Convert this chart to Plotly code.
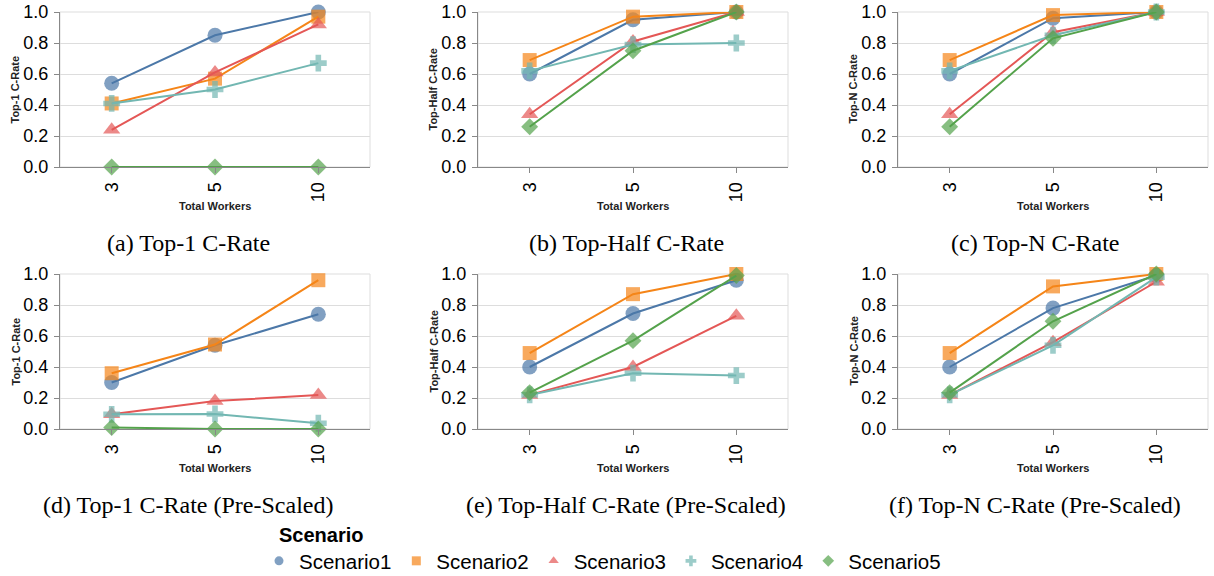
import plotly.graph_objects as go

# ---------------- data ----------------
workers = ["3", "5", "10"]
scenarios = ["Scenario1", "Scenario2", "Scenario3", "Scenario4", "Scenario5"]

top1 = [[0.54, 0.85, 1.00],
        [0.41, 0.57, 0.97],
        [0.24, 0.61, 0.92],
        [0.41, 0.50, 0.67],
        [0.00, 0.00, 0.00]]
top_half = [[0.60, 0.95, 1.00],
            [0.69, 0.97, 1.00],
            [0.34, 0.81, 1.00],
            [0.62, 0.79, 0.80],
            [0.26, 0.75, 1.00]]
top_n = [[0.60, 0.96, 1.00],
         [0.69, 0.98, 1.00],
         [0.34, 0.87, 1.00],
         [0.62, 0.85, 1.00],
         [0.26, 0.83, 1.00]]
top1_pre = [[0.30, 0.54, 0.74],
            [0.36, 0.545, 0.96],
            [0.095, 0.18, 0.22],
            [0.095, 0.097, 0.037],
            [0.01, 0.00, 0.00]]
top_half_pre = [[0.40, 0.745, 0.96],
                [0.49, 0.87, 1.00],
                [0.22, 0.40, 0.73],
                [0.22, 0.36, 0.345],
                [0.235, 0.57, 0.99]]
top_n_pre = [[0.40, 0.78, 0.99],
             [0.49, 0.92, 1.00],
             [0.22, 0.56, 0.95],
             [0.22, 0.54, 0.98],
             [0.235, 0.695, 1.00]]

panels = [top1, top_half, top_n, top1_pre, top_half_pre, top_n_pre]
y_titles = ["Top-1 C-Rate", "Top-Half C-Rate", "Top-N C-Rate",
            "Top-1 C-Rate", "Top-Half C-Rate", "Top-N C-Rate"]
captions = ["(a) Top-1 C-Rate", "(b) Top-Half C-Rate", "(c) Top-N C-Rate",
            "(d) Top-1 C-Rate (Pre-Scaled)", "(e) Top-Half C-Rate (Pre-Scaled)",
            "(f) Top-N C-Rate (Pre-Scaled)"]
y_ticks = [0.0, 0.2, 0.4, 0.6, 0.8, 1.0]

# ---------------- styles ----------------
colors = ["#4c78a8", "#f58518", "#e45756", "#72b7b2", "#54a24b"]
symbols = ["circle", "square", "triangle-up", "cross", "diamond"]
msizes = [15, 14, 15, 14, 13]

W, H = 1214, 576
col_left = [60, 478, 898]
plot_w = 310
row_top = [12, 274]
plot_h = 155
caption_x = [188, 626, 1035]
caption_y = [243, 505]

SANS = "Liberation Sans, Arial, sans-serif"
SERIF = "Liberation Serif, Times New Roman, serif"

fig = go.Figure()
layout = dict(
    width=W, height=H,
    margin=dict(l=0, r=0, t=0, b=0, autoexpand=False),
    paper_bgcolor="white", plot_bgcolor="white",
    showlegend=True,
    font=dict(family=SANS, color="#000"),
)
annotations = []
shapes = []

for i, data in enumerate(panels):
    r, c = divmod(i, 3)
    sfx = "" if i == 0 else str(i + 1)
    x0 = col_left[c]
    y0 = row_top[r]
    xd = [x0 / W, (x0 + plot_w) / W]
    yd = [1 - (y0 + plot_h) / H, 1 - y0 / H]
    layout["xaxis" + sfx] = dict(
        domain=xd, anchor="y" + sfx, type="category",
        categoryorder="array", categoryarray=workers,
        range=[-0.5, 2.5], tickangle=-90, automargin=False,
        showgrid=False, zeroline=False,
        showline=True, linecolor="#888", linewidth=1,
        ticks="outside", ticklen=5, tickcolor="#888",
        tickfont=dict(size=18, family=SANS, color="#000"),
        ticklabelstandoff=2,
    )
    layout["yaxis" + sfx] = dict(
        domain=yd, anchor="x" + sfx, range=[0, 1], automargin=False,
        tickvals=y_ticks, ticktext=[f"{v:.1f}" for v in y_ticks],
        showgrid=True, gridcolor="#ddd", gridwidth=1, zeroline=False,
        showline=True, linecolor="#888", linewidth=1,
        ticks="outside", ticklen=5, tickcolor="#888",
        tickfont=dict(size=18, family=SANS, color="#000"),
        ticklabelstandoff=2,
    )
    # view frame
    shapes.append(dict(type="rect", xref="x" + sfx + " domain", yref="y" + sfx + " domain",
                       x0=0, x1=1, y0=0, y1=1, line=dict(color="#ddd", width=1),
                       layer="below"))
    for s, vals in enumerate(data):
        fig.add_trace(go.Scatter(
            x=workers, y=vals, mode="lines+markers", name=scenarios[s],
            legendgroup=scenarios[s], showlegend=False,
            xaxis="x" + sfx, yaxis="y" + sfx, cliponaxis=False,
            line=dict(color=colors[s], width=2),
            marker=dict(symbol=symbols[s], size=msizes[s], color=colors[s],
                        opacity=0.7, line=dict(width=0)),
        ))
    # axis titles
    annotations.append(dict(
        text="<b>Total Workers</b>", xref="paper", yref="paper",
        x=(x0 + plot_w / 2) / W, y=1 - (y0 + plot_h + 39) / H,
        xanchor="center", yanchor="middle", showarrow=False,
        font=dict(size=11, family=SANS, color="#222")))
    annotations.append(dict(
        text="<b>" + y_titles[i] + "</b>", xref="paper", yref="paper",
        x=(x0 - 45) / W, y=1 - (y0 + plot_h / 2) / H, textangle=-90,
        xanchor="center", yanchor="middle", showarrow=False,
        font=dict(size=11, family=SANS, color="#222")))
    # captions
    annotations.append(dict(
        text=captions[i], xref="paper", yref="paper",
        x=caption_x[c] / W, y=1 - caption_y[r] / H,
        xanchor="center", yanchor="middle", showarrow=False,
        font=dict(size=24, family=SERIF, color="#000")))

# legend entries
for s in range(5):
    fig.add_trace(go.Scatter(
        x=[None], y=[None], mode="markers", name=scenarios[s],
        legendgroup=scenarios[s], showlegend=True,
        marker=dict(symbol=symbols[s], size=9, color=colors[s], opacity=0.7),
    ))

annotations.append(dict(
    text="<b>Scenario</b>", xref="paper", yref="paper",
    x=277 / W, y=1 - 535 / H, xanchor="left", yanchor="middle", showarrow=False,
    font=dict(size=20, family=SANS, color="#000")))

layout["legend"] = dict(
    orientation="h", x=259 / W, y=1 - 561 / H, xanchor="left", yanchor="middle",
    font=dict(size=20.5, family=SANS, color="#000"),
    bgcolor="rgba(0,0,0,0)", itemclick=False, traceorder="normal",
)
layout["annotations"] = annotations
layout["shapes"] = shapes
fig.update_layout(**layout)
fig.write_html(
    "out.html",
    config={"displayModeBar": False},
    post_script="document.body.style.margin='0';document.body.style.overflow='hidden';",
)
